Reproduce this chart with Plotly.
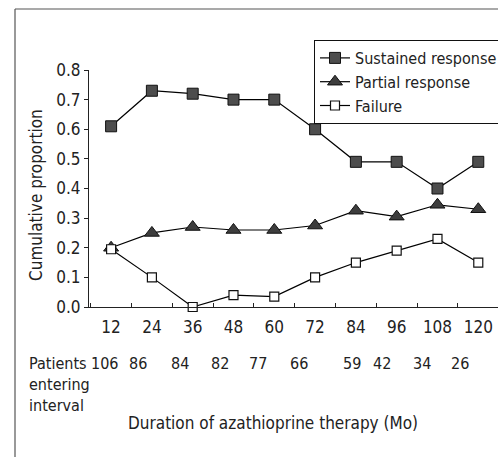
import plotly.graph_objects as go

months = [12, 24, 36, 48, 60, 72, 84, 96, 108, 120]
sustained = [0.61, 0.73, 0.72, 0.70, 0.70, 0.60, 0.49, 0.49, 0.40, 0.49]
partial = [0.20, 0.25, 0.27, 0.26, 0.26, 0.275, 0.325, 0.305, 0.345, 0.33]
failure = [0.195, 0.10, 0.0, 0.04, 0.035, 0.10, 0.15, 0.19, 0.23, 0.15]
patients = [106, 86, 84, 82, 77, 66, 59, 42, 34, 26]
patient_xshift = [-7, -14, -13, -13, -16, -16, -4, -15, -15, -18]
y_ticks = [0.0, 0.1, 0.2, 0.3, 0.4, 0.5, 0.6, 0.7, 0.8]

FONT = "DejaVu Sans Condensed, Liberation Sans Narrow, sans-serif"
TXT = "#222222"
FS = 17

W, H = 498, 457
L, R, T, B = 89, 0, 70, 150
pw, ph = W - L - R, H - T - B


def px_x(p):
    return (p - L) / pw


def px_y(p):
    return (H - B - p) / ph


fig = go.Figure()
fig.add_trace(go.Scatter(
    x=months, y=sustained, name="Sustained response", mode="lines+markers",
    line=dict(color="black", width=1.2),
    marker=dict(symbol="square", size=11, color="#4d4d4d", line=dict(color="#111", width=1)),
    cliponaxis=False))
fig.add_trace(go.Scatter(
    x=months, y=partial, name="Partial response", mode="lines+markers",
    line=dict(color="black", width=1.2),
    marker=dict(symbol="triangle-up", size=13, color="#3d3d3d", line=dict(color="#111", width=1)),
    cliponaxis=False))
fig.add_trace(go.Scatter(
    x=months, y=failure, name="Failure", mode="lines+markers",
    line=dict(color="black", width=1.2),
    marker=dict(symbol="square", size=9, color="white", line=dict(color="#111", width=1.2)),
    cliponaxis=False))

annotations = []
for m, n, s in zip(months, patients, patient_xshift):
    annotations.append(dict(x=m, y=px_y(363), xref="x", yref="paper", text=str(n),
                            showarrow=False, xshift=s, xanchor="center", yanchor="middle",
                            font=dict(family=FONT, size=16, color=TXT)))
for i, t in enumerate(["Patients", "entering", "interval"]):
    annotations.append(dict(x=px_x(27), y=px_y(363 + 21 * i), xref="paper", yref="paper", text=t,
                            showarrow=False, xanchor="left", yanchor="middle",
                            font=dict(family=FONT, size=16, color=TXT)))
annotations.append(dict(x=px_x(273), y=px_y(423), xref="paper", yref="paper",
                        text="Duration of azathioprine therapy (Mo)", showarrow=False,
                        xanchor="center", yanchor="middle",
                        font=dict(family=FONT, size=FS, color=TXT)))
annotations.append(dict(x=px_x(36), y=px_y(195), xref="paper", yref="paper",
                        text="Cumulative proportion", showarrow=False, textangle=-90,
                        xanchor="center", yanchor="middle",
                        font=dict(family=FONT, size=FS, color=TXT)))

shapes = [
    dict(type="line", xref="paper", yref="paper", x0=px_x(15), x1=px_x(15), y0=px_y(9), y1=px_y(H),
         line=dict(color="#555", width=1.2)),
    dict(type="line", xref="paper", yref="paper", x0=px_x(15), x1=px_x(W), y0=px_y(9), y1=px_y(9),
         line=dict(color="#555", width=1.2)),
]

fig.update_layout(
    width=W, height=H,
    margin=dict(l=L, r=R, t=T, b=B, autoexpand=False),
    paper_bgcolor="white", plot_bgcolor="white",
    font=dict(family=FONT, size=FS, color=TXT),
    showlegend=True,
    legend=dict(x=px_x(314), y=px_y(40), xanchor="left", yanchor="top",
                bordercolor="#111", borderwidth=1, bgcolor="white",
                font=dict(family=FONT, size=16, color=TXT),
                itemwidth=30, tracegroupgap=0),
    annotations=annotations, shapes=shapes,
    xaxis=dict(range=[5.5, 125.8], tickvals=months, ticktext=[str(m) for m in months],
               ticks="", showgrid=False, zeroline=False, showline=True,
               linecolor="#222", linewidth=1.2, ticklabelstandoff=4,
               tickfont=dict(family=FONT, size=FS, color=TXT),
               minor=dict(ticks="inside", ticklen=4, tick0=6, dtick=12, tickcolor="#222", showgrid=False)),
    yaxis=dict(range=[0, 0.8], tickvals=y_ticks, ticktext=[f"{v:.1f}" for v in y_ticks],
               ticks="outside", ticklen=4, tickcolor="#222", showgrid=False, zeroline=False,
               showline=True, linecolor="#222", linewidth=1.2,
               tickfont=dict(family=FONT, size=FS, color=TXT)),
)

fig.write_html("out.html", config={"displayModeBar": False},
               post_script="document.body.style.margin='0';document.body.style.overflow='hidden';")
